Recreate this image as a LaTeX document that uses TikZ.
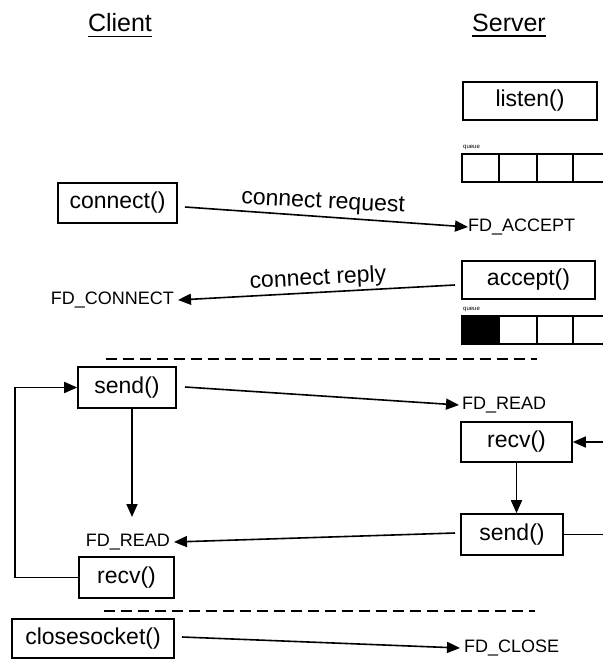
\documentclass[tikz,border=0pt]{standalone}
\usepackage{fontspec}
\setmainfont{Liberation Sans}
\usetikzlibrary{arrows.meta,calc}

\begin{document}
\begin{tikzpicture}[x=1pt,y=-1pt,
  fnbox/.style={draw, line width=1.6pt, inner sep=0pt, font=\fontsize{23}{23}\selectfont},
  evt/.style={inner sep=0pt, font=\fontsize{18}{18}\selectfont},
  title/.style={inner sep=0pt, font=\fontsize{25}{25}\selectfont},
  msglbl/.style={inner sep=0pt, font=\fontsize{23}{23}\selectfont},
  qlbl/.style={inner sep=0pt, anchor=west, font=\fontsize{6}{6}\selectfont},
  msg/.style={line width=1.6pt, -{Triangle[length=13pt,width=11pt]}},
  flow/.style={line width=1.6pt, -{Triangle[length=13pt,width=11pt]}},
  plain/.style={line width=1.6pt},
  sep/.style={line width=1.7pt, dash pattern=on 11pt off 6pt},
  cell/.style={line width=1.6pt}
]
\useasboundingbox (0,0) rectangle (602,668);
\fill[white] (0,0) rectangle (602,668);

% column headings
\node[title] (hclient) at (120,23) {Client};
\node[title] (hserver) at (509,23) {Server};
\draw[line width=1.4pt] ($(hclient.south west)+(0,4)$) -- ($(hclient.south east)+(0,4)$);
\draw[line width=1.4pt] ($(hserver.south west)+(0,4)$) -- ($(hserver.south east)+(0,4)$);

% server: listen and its backlog queue
\node[fnbox, minimum width=134pt, minimum height=38pt] (listen) at (530,101) {listen()};
\node[qlbl] (q1lbl) at (463,148) {queue};
\draw[cell] (604,154) -- (462,154) -- (462,182) -- (604,182);
\foreach \x in {499,537,573} \draw[cell] (\x,154) -- (\x,182);

% client: connect
\node[fnbox, minimum width=119pt, minimum height=40pt] (connect) at (117.5,203) {connect()};
\node[evt, anchor=west] (fdaccept) at (468,227) {FD\_ACCEPT};
\coordinate (reqstart) at (185,207);
\draw[msg] (reqstart) -- (fdaccept.west);
\node[msglbl, rotate=-3] (reqlbl) at (323,203) {connect request};

% server: accept and its queue with one pending entry
\node[fnbox, minimum width=133pt, minimum height=38pt] (accept) at (528.5,280) {accept()};
\node[qlbl] (q2lbl) at (463,310) {queue};
\fill (462,316) rectangle (499,344);
\draw[cell] (604,316) -- (462,316) -- (462,344) -- (604,344);
\foreach \x in {499,537,573} \draw[cell] (\x,316) -- (\x,344);

\node[evt, anchor=east] (fdconnect) at (174,300) {FD\_CONNECT};
\coordinate (repstart) at (455,285);
\draw[msg] (repstart) -- ([xshift=4pt]fdconnect.east);
\node[msglbl, rotate=3] (replbl) at (318,279) {connect reply};

% separator
\node[inner sep=0pt] (sep1a) at (105,359) {};
\node[inner sep=0pt] (sep1b) at (538,359) {};
\draw[sep] (sep1a) -- (sep1b);

% data exchange
\node[fnbox, minimum width=98pt, minimum height=41pt] (csend) at (127,387.5) {send()};
\node[evt, anchor=west] (fdread1) at (462,405) {FD\_READ};
\coordinate (sendstart) at (185,387);
\draw[msg] (sendstart) -- ([xshift=-3pt]fdread1.west);

\node[fnbox, minimum width=111pt, minimum height=40pt] (srecv) at (516.5,442) {recv()};
\node[fnbox, minimum width=102pt, minimum height=41pt] (ssend) at (512,534.5) {send()};
\coordinate (rin) at (606,442);
\draw[flow] (rin) -- (srecv.east);
\draw[flow] (srecv.south) -- (srecv.south |- ssend.north);
\coordinate (sout) at (606,534.5);
\draw[plain] (ssend.east) -- (sout);

\node[evt, anchor=east] (fdread2) at (170,542) {FD\_READ};
\coordinate (rplstart) at (455,533);
\draw[msg] (rplstart) -- ([xshift=4pt]fdread2.east);

\coordinate (cdown) at (132,408);
\coordinate (cdownend) at (132,517);
\draw[flow] (cdown) -- (cdownend);

\node[fnbox, minimum width=95pt, minimum height=41pt] (crecv) at (126.5,577.5) {recv()};
\coordinate (loopx) at (15,577.5);
\draw[flow] (crecv.west) -- (loopx) |- (csend.west);

% separator
\node[inner sep=0pt] (sep2a) at (103,611) {};
\node[inner sep=0pt] (sep2b) at (536,611) {};
\draw[sep] (sep2a) -- (sep2b);

% close
\node[fnbox, minimum width=162pt, minimum height=39pt] (close) at (93,638.5) {closesocket()};
\node[evt, anchor=west] (fdclose) at (464,648) {FD\_CLOSE};
\coordinate (closestart) at (182,637);
\draw[msg] (closestart) -- ([xshift=-4pt]fdclose.west);
\end{tikzpicture}
\end{document}
